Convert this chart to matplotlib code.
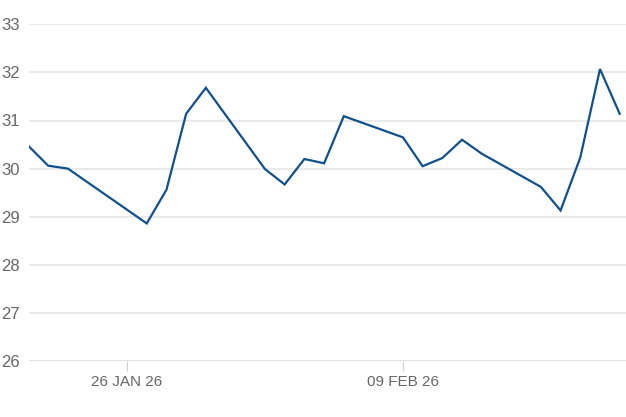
import matplotlib
matplotlib.use("Agg")
import matplotlib.pyplot as plt
import matplotlib.dates as mdates
import numpy as np
from datetime import datetime

# daily closing values (Australia Day 26 Jan has no print)
dates = [
    "2026-01-21", "2026-01-22", "2026-01-23", "2026-01-27", "2026-01-28",
    "2026-01-29", "2026-01-30", "2026-02-02", "2026-02-03", "2026-02-04",
    "2026-02-05", "2026-02-06", "2026-02-09", "2026-02-10", "2026-02-11",
    "2026-02-12", "2026-02-13", "2026-02-16", "2026-02-17", "2026-02-18",
    "2026-02-19", "2026-02-20",
]
values = [
    30.47, 30.06, 30.00, 28.86, 29.56,
    31.14, 31.68, 29.99, 29.67, 30.20,
    30.11, 31.09, 30.65, 30.05, 30.22,
    30.60, 30.31, 29.62, 29.13, 30.23,
    32.07, 31.14,
]
y_ticks = [26, 27, 28, 29, 30, 31, 32, 33]
x_ticks = ["2026-01-26", "2026-02-09"]
x_labels = ["26 JAN 26", "09 FEB 26"]

plt.rcParams['font.family'] = ['Liberation Sans', 'DejaVu Sans']

x = [datetime.strptime(d, "%Y-%m-%d") for d in dates]

fig = plt.figure(figsize=(6.26, 4.17), dpi=100)
ax = fig.add_axes([28.5 / 626, 1 - 361 / 417, 1 - 28.5 / 626, (361 - 24.3) / 417])

ax.plot(x, values, color="#10508c", linewidth=1.6, solid_joinstyle="miter", zorder=3)

ax.set_ylim(26, 33)
ax.set_yticks(y_ticks)
ax.set_xlim(datetime(2026, 1, 21), mdates.num2date(mdates.date2num(datetime(2026, 2, 20)) + 0.32))
ax.set_xticks([datetime.strptime(d, "%Y-%m-%d") for d in x_ticks])
ax.set_xticklabels(x_labels)

for s in ax.spines.values():
    s.set_visible(False)
ax.grid(axis="y", color="#e6e6e6", linewidth=1.2, zorder=0)
ax.axhline(26, color="#d6d6dc", linewidth=1.4, zorder=1)

ax.tick_params(axis="y", length=0, pad=6, labelsize=12, labelcolor="#666666")
ax.tick_params(axis="x", length=7, width=0.8, color="#d0d0d0", pad=3,
               labelsize=11, labelcolor="#666666")

fig.savefig("out.png", dpi=100)
